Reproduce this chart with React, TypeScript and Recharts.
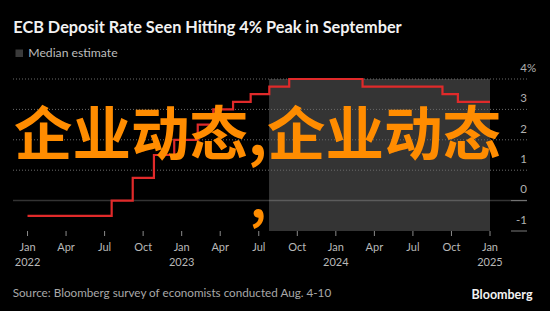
import React from 'react';
import { ComposedChart, Line, XAxis, YAxis, ReferenceLine, ReferenceArea } from 'recharts';

// months since Jan 2022 at which the deposit rate changes, and the rate (%) from then on
const rateMonths = [0, 6.55, 8.19, 9.84, 11.42, 13.25, 14.46, 16.0, 17.37, 18.82, 20.37, 26.08, 32.3, 33.5, 36];
const rateValues = [-0.5, 0, 0.75, 1.5, 2.0, 2.5, 3.0, 3.25, 3.5, 3.75, 4.0, 3.75, 3.5, 3.25, 3.25];

const xTickMonths = [0, 3, 6, 9, 12, 15, 18, 21, 24, 27, 30, 33, 36];
const xTickNames = ['Jan', 'Apr', 'Jul', 'Oct', 'Jan', 'Apr', 'Jul', 'Oct', 'Jan', 'Apr', 'Jul', 'Oct', 'Jan'];
const xTickYears = ['2022', '', '', '', '2023', '', '', '', '2024', '', '', '', '2025'];
const yTicks = [-1, 0, 1, 2, 3, 4];
const gridValues = [1, 2, 3, 4];
const estimateStart = 18.8;
const estimateEnd = 36;

const title = 'ECB Deposit Rate Seen Hitting 4% Peak in September';
const legendLabel = 'Median estimate';
const sourceText = 'Source: Bloomberg survey of economists conducted Aug. 4-10';
const brand = 'Bloomberg';
const watermark = '企业动态,企业动态';

const data = rateMonths.map((m, i) => ({ m, rate: rateValues[i] }));

const FONT = 'Lato, "Noto Sans", sans-serif';

const XTick = (props: any) => {
  const { x, y, payload } = props;
  const i = xTickMonths.indexOf(payload.value);
  return (
    <g>
      <text x={x} y={y} dy={12.7} textAnchor="middle" fill="#b8b8b8" fontSize={11} fontFamily={FONT}>
        {xTickNames[i]}
      </text>
      {xTickYears[i] ? (
        <text x={x} y={y} dy={28} textAnchor="middle" fill="#b8b8b8" fontSize={11} fontFamily={FONT}>
          {xTickYears[i]}
        </text>
      ) : null}
    </g>
  );
};

const YTick = (props: any) => {
  const { x, y, payload } = props;
  const v = payload.value;
  const isTop = v === yTicks[yTicks.length - 1];
  return (
    <g>
      {v <= 0 ? <line x1={x - 16} x2={x} y1={y} y2={y} stroke="#7a7a7a" strokeWidth={1} /> : null}
      <text x={x} y={y} dy={-7.3} textAnchor="end" fill="#b0b0b0" fontSize={11.5} fontFamily={FONT}>
        {v}
      </text>
      {isTop ? (
        <text x={x} y={y} dy={-7.3} textAnchor="start" fill="#b0b0b0" fontSize={11.5} fontFamily={FONT}>
          %
        </text>
      ) : null}
    </g>
  );
};

export default function App() {
  return (
    <div style={{ position: 'absolute', left: 0, top: 0, width: 550, height: 311, background: '#000', overflow: 'hidden' }}>
      <ComposedChart width={550} height={311} data={data} margin={{ top: 79, right: 0, bottom: 40, left: 13 }}>
        <ReferenceArea x1={estimateStart} x2={estimateEnd} y1={-1} y2={4} fill="#343434" fillOpacity={1} stroke="none" ifOverflow="hidden" />
        {gridValues.map((g) => (
          <ReferenceLine key={g} y={g} stroke="#6a6a6a" strokeDasharray="1 2" />
        ))}
        <ReferenceLine y={0} stroke="#ffffff" strokeOpacity={0.2} strokeWidth={1.5} />
        <XAxis
          dataKey="m"
          type="number"
          domain={[-1.13, 38.88]}
          ticks={xTickMonths}
          allowDataOverflow
          height={40}
          axisLine={false}
          tickLine={{ stroke: '#8a8a8a' }}
          tickSize={5}
          tickMargin={2}
          tick={<XTick />}
          interval={0}
        />
        <YAxis
          orientation="right"
          type="number"
          domain={[-1, 4]}
          ticks={yTicks}
          width={23}
          axisLine={false}
          tickLine={false}
          tickSize={0}
          tickMargin={0}
          tick={<YTick />}
          interval={0}
        />
        <Line type="stepAfter" dataKey="rate" stroke="#e02a2a" strokeWidth={2.2} dot={false} isAnimationActive={false} />
      </ComposedChart>
      <svg width={550} height={311} style={{ position: 'absolute', left: 0, top: 0, pointerEvents: 'none' }}>
        <text x={13.3} y={33.3} fill="#f2f2f2" fontSize={16.3} fontWeight={700} fontFamily={FONT}>
          {title}
        </text>
        <rect x={15.5} y={49.5} width={7.5} height={7.5} fill="#3a3a3a" />
        <text x={28.3} y={56.7} fill="#bdbdbd" fontSize={12.2} fontFamily={FONT}>
          {legendLabel}
        </text>
        <text x={12.7} y={296.7} fill="#a8a8a8" fontSize={11.7} fontFamily={FONT}>
          {sourceText}
        </text>
        <text x={532.5} y={299} textAnchor="end" fill="#f2f2f2" fontSize={12.5} fontWeight={700} fontFamily={FONT}>
          {brand}
        </text>
        <text x={14} y={155} fill="#ff8c00" fontSize={58.5} fontWeight={700} fontFamily={'"Noto Sans CJK SC", sans-serif'}>
          {watermark}
        </text>
        <text x={250} y={218} fill="#ff8c00" fontSize={50} fontWeight={700} fontFamily={'"Noto Sans CJK SC", sans-serif'}>
          {','}
        </text>
      </svg>
    </div>
  );
}
